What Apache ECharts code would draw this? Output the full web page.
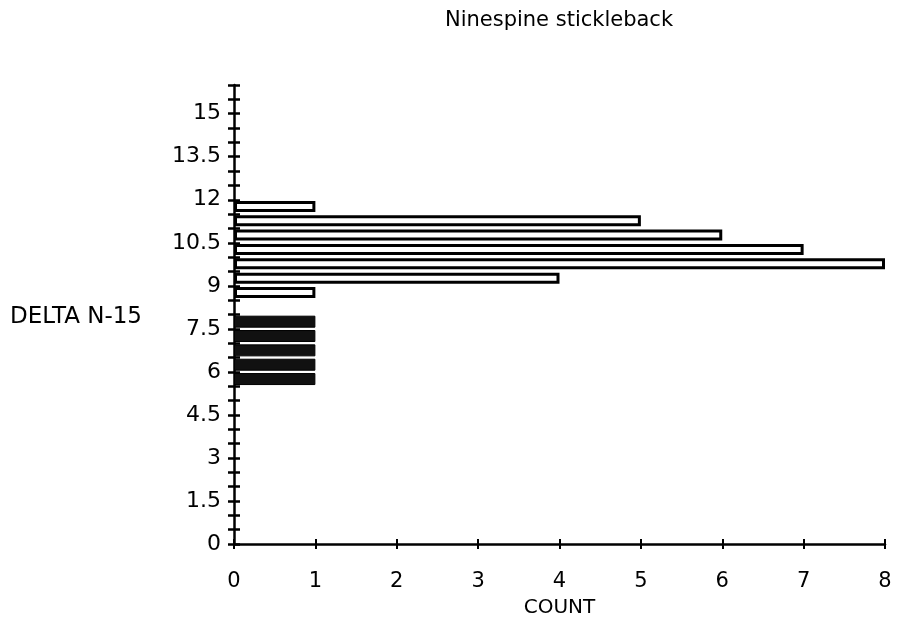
<!DOCTYPE html>
<html>
<head>
<meta charset="utf-8">
<script src="https://cdn.jsdelivr.net/npm/echarts@6/dist/echarts.min.js"></script>
<style>
  html, body { margin: 0; padding: 0; background: #fff; }
  #chart { width: 899px; height: 629px; }
</style>
</head>
<body>
<div id="chart"></div>
<script>
// histogram bins of 0.5, lower edges from 0 to 15.5
var binStarts = [];
for (var b = 0; b < 32; b++) binStarts.push(b * 0.5);

// counts per bin (lower edge -> count)
var openBins = [8.5, 9, 9.5, 10, 10.5, 11, 11.5];
var openCounts = [1, 4, 8, 7, 6, 5, 1];
var darkBins = [5.5, 6, 6.5, 7, 7.5];
var darkCounts = [1, 1, 1, 1, 1];

var yLabelStep = 1.5;

function toSeries(bins, counts) {
  var out = binStarts.map(function() { return null; });
  bins.forEach(function(v, i) {
    out[binStarts.indexOf(v)] = counts[i];
  });
  return out;
}

var font = "DejaVu Sans, sans-serif";
var chart = echarts.init(document.getElementById("chart"));

var yBase = {
  type: "value",
  min: 0,
  max: 16,
  interval: 0.5,
  position: "left",
  splitLine: { show: false },
  axisLine: { show: true, lineStyle: { color: "#000", width: 2.5 } }
};

var option = {
  animation: false,
  grid: { left: 234, right: 14, top: 85, bottom: 85 },
  graphic: [
    {
      type: "text", x: 559, y: 21,
      style: { text: "Ninespine stickleback", font: "21px " + font, fill: "#000", align: "center", verticalAlign: "middle" }
    },
    {
      type: "text", x: 10, y: 317,
      style: { text: "DELTA N-15", font: "23px " + font, fill: "#000", align: "left", verticalAlign: "middle" }
    }
  ],
  xAxis: [
    {
      type: "value", min: 0, max: 8, interval: 1,
      name: "COUNT", nameLocation: "middle", nameGap: 54,
      nameTextStyle: { color: "#000", fontSize: 20, fontFamily: font },
      splitLine: { show: false },
      axisLine: { show: true, lineStyle: { color: "#000", width: 2.5 } },
      axisTick: { show: true, length: 5, lineStyle: { color: "#000", width: 2 } },
      axisLabel: { color: "#000", fontSize: 21, fontFamily: font, margin: 27 }
    },
    {
      type: "value", min: 0, max: 8, interval: 1, position: "bottom",
      splitLine: { show: false },
      axisLine: { show: false },
      axisTick: { show: true, inside: true, length: 5, lineStyle: { color: "#000", width: 2 } },
      axisLabel: { show: false }
    }
  ],
  yAxis: [
    Object.assign({}, yBase, {
      axisTick: { show: true, length: 6, lineStyle: { color: "#000", width: 2.5 } },
      axisLabel: {
        color: "#000", fontSize: 22, fontFamily: font, margin: 13,
        formatter: function(v) {
          var r = v / yLabelStep;
          return Math.abs(r - Math.round(r)) < 1e-6 && v <= 15 ? String(v) : "";
        }
      }
    }),
    Object.assign({}, yBase, {
      axisLine: { show: false },
      axisTick: { show: true, inside: true, length: 6, lineStyle: { color: "#000", width: 2.5 } },
      axisLabel: { show: false }
    }),
    {
      type: "category",
      data: binStarts.map(String),
      position: "left",
      boundaryGap: true,
      show: false
    }
  ],
  series: [
    {
      type: "bar",
      yAxisIndex: 2,
      xAxisIndex: 0,
      barWidth: 11,
      barGap: "-100%",
      data: toSeries(openBins, openCounts),
      itemStyle: { color: "#fff", borderColor: "#000", borderWidth: 3 }
    },
    {
      type: "bar",
      yAxisIndex: 2,
      xAxisIndex: 0,
      barWidth: 12,
      barGap: "-100%",
      data: toSeries(darkBins, darkCounts),
      itemStyle: { color: "#111", borderColor: "#000", borderWidth: 1 }
    }
  ]
};

chart.setOption(option);
</script>
</body>
</html>
